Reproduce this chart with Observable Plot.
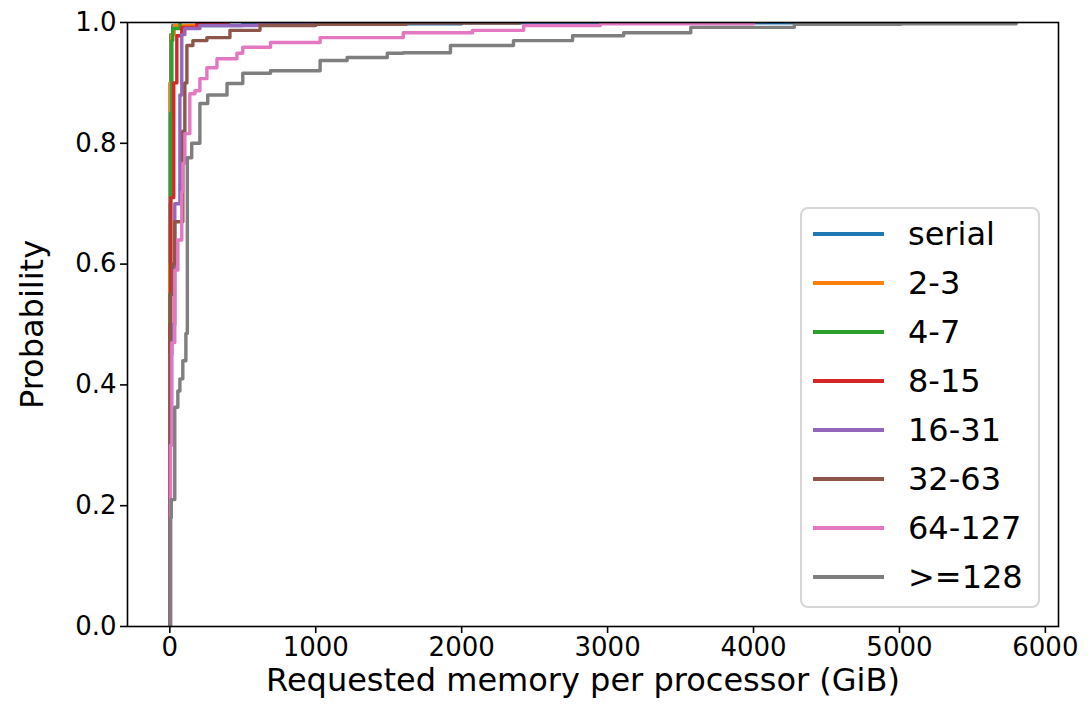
<!DOCTYPE html>
<html><head><meta charset="utf-8">
<script src="https://cdn.jsdelivr.net/npm/d3@7"></script>
<script src="https://cdn.jsdelivr.net/npm/@observablehq/plot@0.6"></script>
<style>
body{margin:0;background:#fff;font-family:"DejaVu Sans",sans-serif;}
#wrap{position:relative;width:1091px;height:724px;}
#legend{position:absolute;left:800px;top:207px;width:240px;height:401px;box-sizing:border-box;border:2px solid #d6d6d6;border-radius:8px;background:rgba(255,255,255,0.8);}
.row{position:absolute;left:0;height:40px;}
.row .sw{position:absolute;left:11px;top:18px;width:71px;height:4px;}
.row .lb{position:absolute;left:106px;top:0;font-size:32px;line-height:40px;color:#000;white-space:nowrap;}
</style>
</head><body>
<div id="wrap"><div id="chart"></div><div id="legend"></div></div>
<script>
const seriesNames = ["serial","2-3","4-7","8-15","16-31","32-63","64-127",">=128"];
const seriesColors = ["#1f77b4","#ff7f0e","#2ca02c","#d62728","#9467bd","#8c564b","#e377c2","#7f7f7f"];
const xTicks = [0,1000,2000,3000,4000,5000,6000];
const yTicks = [0,0.2,0.4,0.6,0.8,1.0];

const memSerial = [0,0.5,2,6,20,500,2000,4280];
const probSerial = [0,0.7,0.9,0.98,0.995,0.998,0.9995,1.0];
const mem2 = [0,0.5,4,10,30,200];
const prob2 = [0,0.6,0.9,0.98,0.995,1.0];
const mem4 = [0,0.5,5,14,20,70];
const prob4 = [0,0.55,0.85,0.97,0.99,1.0];
const mem8 = [0,1,7,27,48,82,185,400];
const prob8 = [0,0.5,0.71,0.90,0.978,0.992,0.998,1.0];
const mem16 = [0,2,14,34,69,82,103,206,600,980];
const prob16 = [0,0.45,0.50,0.70,0.88,0.98,0.99,0.995,0.998,1.0];
const mem32 = [0,3,20,34,89,103,117,158,254,412,618,1000,1620,2400];
const prob32 = [0,0.55,0.60,0.67,0.82,0.90,0.962,0.970,0.975,0.987,0.995,0.997,0.999,1.0];
const mem64 = [0,5,14,34,55,82,89,103,137,172,206,254,323,460,500,690,1030,1600,2074,2425,2950,4000];
const prob64 = [0,0.30,0.47,0.59,0.64,0.72,0.767,0.816,0.882,0.887,0.907,0.925,0.940,0.949,0.959,0.967,0.975,0.983,0.987,0.995,0.998,1.0];
const mem128 = [0,5,10,34,55,69,89,110,120,150,206,260,392,500,690,1030,1215,1490,1600,1923,2355,2760,3110,3570,4280,5010,5800];
const prob128 = [0,0.18,0.21,0.363,0.39,0.41,0.44,0.485,0.776,0.80,0.866,0.88,0.899,0.916,0.92,0.937,0.942,0.949,0.950,0.962,0.970,0.978,0.983,0.992,0.997,0.998,1.0];

const mems = [memSerial,mem2,mem4,mem8,mem16,mem32,mem64,mem128];
const probs = [probSerial,prob2,prob4,prob8,prob16,prob32,prob64,prob128];

const lineMarks = seriesNames.map((name,i) => {
  const data = mems[i].map((m,j) => ({x:m, y:probs[i][j], s:name}));
  return Plot.line(data, {x:"x", y:"y", stroke: seriesColors[i], strokeWidth:3.4, curve:"step-after", clip:true});
});

const chart = Plot.plot({
  width:1091, height:724,
  marginLeft:127, marginRight:33, marginTop:22, marginBottom:98,
  style:{fontFamily:"DejaVu Sans", background:"#fff", color:"#000"},
  x:{domain:[-290,6090]},
  y:{domain:[0,1]},
  marks:[
    ...lineMarks,
    Plot.frame({stroke:"#000", strokeWidth:1.6}),
    Plot.axisX({ticks:xTicks, tickSize:7, tickPadding:4, fontSize:26, label:null, strokeWidth:1.6, tickFormat:d3.format("d")}),
    Plot.axisY({ticks:yTicks, tickSize:7, tickPadding:4, fontSize:26, label:null, tickFormat:d3.format(".1f"), strokeWidth:1.6}),
    Plot.text(["Requested memory per processor (GiB)"], {frameAnchor:"bottom", textAnchor:"middle", lineAnchor:"middle", dx:-10, dy:54, fontSize:32, fill:"#000"}),
    Plot.text(["Probability"], {frameAnchor:"left", textAnchor:"middle", lineAnchor:"middle", dx:-95, rotate:-90, fontSize:32, fill:"#000"})
  ]
});
document.getElementById("chart").appendChild(chart);

const legend = document.getElementById("legend");
seriesNames.forEach((name,i) => {
  const row = document.createElement("div");
  row.className = "row";
  row.style.top = (5 + i*49) + "px";
  row.style.width = "236px";
  row.innerHTML = `<div class="sw" style="background:${seriesColors[i]}"></div><div class="lb">${name.replace(">","&gt;")}</div>`;
  legend.appendChild(row);
});
</script>
</body></html>
